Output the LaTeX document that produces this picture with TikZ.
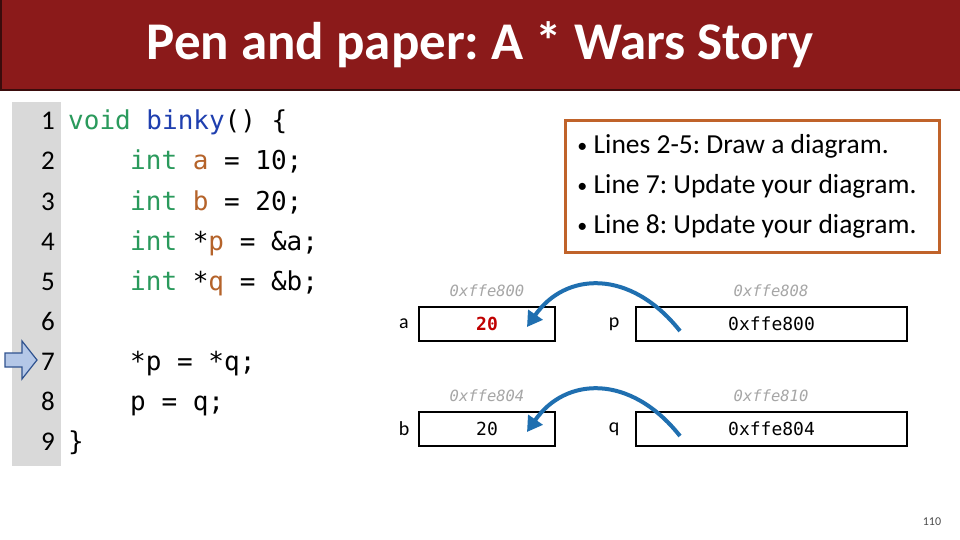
\documentclass[tikz,border=0pt]{standalone}
\usepackage{fontspec}
\setmainfont{Carlito}
\newfontfamily\codefont{DejaVu Sans Mono}
\usetikzlibrary{arrows.meta,calc}
\definecolor{titlered}{HTML}{8B1A1A}
\definecolor{titleedge}{HTML}{3A0C0C}
\definecolor{gutter}{HTML}{D9D9D9}
\definecolor{kwgreen}{HTML}{2A9A5C}
\definecolor{fnblue}{HTML}{1F3FAF}
\definecolor{varorange}{HTML}{B5632A}
\definecolor{boxorange}{HTML}{C0632A}
\definecolor{ptrblue}{HTML}{1F6FB0}
\definecolor{addrgray}{HTML}{A6A6A6}
\definecolor{valred}{HTML}{C00000}
\definecolor{arrowfill}{HTML}{B4C7E7}
\definecolor{arrowedge}{HTML}{2F528F}
\newcommand{\smallbullet}{{\fontsize{20}{20}\selectfont\raisebox{1pt}{•}}\ }
\tikzset{
  lnum/.style={anchor=base east, inner sep=0pt, font=\fontsize{27}{30}\selectfont},
  codeline/.style={anchor=base west, inner sep=0pt, font=\codefont\fontsize{26}{30}\selectfont},
  membox/.style={draw=black, line width=2.6pt, inner sep=0pt, minimum height=34pt, font=\codefont\fontsize{18}{20}\selectfont},
  addr/.style={inner sep=0pt, text=addrgray, font=\codefont\itshape\fontsize{15.5}{18}\selectfont},
  varlabel/.style={inner sep=0pt, font=\fontsize{20}{22}\selectfont},
  ptrarrow/.style={draw=ptrblue, line width=4pt, -{Triangle[width=17pt,length=15pt]}},
}
\begin{document}
\frenchspacing
\begin{tikzpicture}[x=1pt,y=-1pt]
\useasboundingbox (0,0) rectangle (960,540);
\fill[white] (0,0) rectangle (960,540);
% title bar
\fill[titlered] (0,0) rectangle (960,90);
\draw[titleedge, line width=1.5pt] (0.75,0) -- (0.75,90) -- (960,90);
\node[text=white, inner sep=0pt, font=\bfseries\fontsize{53}{60}\selectfont] (title) at (480,45) {Pen and paper: A * Wars Story};
% gutter
\fill[gutter] (12,102) rectangle (61,466);
% line numbers and code
\foreach \k in {1,...,9} {
  \node[lnum] (n\k) at (55,{130+40*(\k-1)}) {\k};
}
\node[codeline] (c1) at (68,130) {\textcolor{kwgreen}{void} \textcolor{fnblue}{binky}() \{};
\node[codeline] (c2) at (130,170) {\textcolor{kwgreen}{int} \textcolor{varorange}{a} = 10;};
\node[codeline] (c3) at (130,210) {\textcolor{kwgreen}{int} \textcolor{varorange}{b} = 20;};
\node[codeline] (c4) at (130,250) {\textcolor{kwgreen}{int} *\textcolor{varorange}{p} = \&a;};
\node[codeline] (c5) at (130,290) {\textcolor{kwgreen}{int} *\textcolor{varorange}{q} = \&b;};
\node[codeline] (c7) at (130,370) {*p = *q;};
\node[codeline] (c8) at (130,410) {p = q;};
\node[codeline] (c9) at (68,450) {\}};
% current line marker
\filldraw[fill=arrowfill, draw=arrowedge, line width=1.2pt]
  (5,353) -- (22,353) -- (22,341) -- (37,360) -- (22,379) -- (22,367) -- (5,367) -- cycle;
% instructions box
\node[draw=boxorange, line width=3.5pt, minimum width=374pt, minimum height=132pt, inner sep=0pt] (instrbox) at (752.5,186.5) {};
\node[align=left, inner sep=0pt, font=\fontsize{27.5}{40}\selectfont] (instr) at (747,186) {\smallbullet Lines 2-5: Draw a diagram.\\\smallbullet Line 7: Update your diagram.\\\smallbullet Line 8: Update your diagram.};
% memory diagram
\node[membox, minimum width=136pt] (abox) at (487,324) {\textcolor{valred}{\bfseries 20}};
\node[membox, minimum width=136pt] (bbox) at (487,429) {20};
\node[membox, minimum width=271pt] (pbox) at (771.5,324) {0xffe800};
\node[membox, minimum width=271pt] (qbox) at (771.5,429) {0xffe804};
\node[addr] (aaddr) at (487,291) {0xffe800};
\node[addr] (baddr) at (487,396) {0xffe804};
\node[addr] (paddr) at (771,291) {0xffe808};
\node[addr] (qaddr) at (771,396) {0xffe810};
\node[varlabel] (alab) at (404,324) {a};
\node[varlabel] (blab) at (404,429) {b};
\node[varlabel] (plab) at (614,324) {p};
\node[varlabel] (qlab) at (614,429) {q};
% pointer arrows
\coordinate (pstart) at (680,331);
\coordinate (aend) at (527,327);
\coordinate (qstart) at (680,436);
\coordinate (bend) at (527,432);
\draw[ptrarrow] (pstart) .. controls (630,268) and (565,272) .. (aend);
\draw[ptrarrow] (qstart) .. controls (630,373) and (565,377) .. (bend);
% page number
\node[inner sep=0pt, text=black!70, font=\fontsize{12}{14}\selectfont] (pg) at (932,522) {110};
\end{tikzpicture}
\end{document}
